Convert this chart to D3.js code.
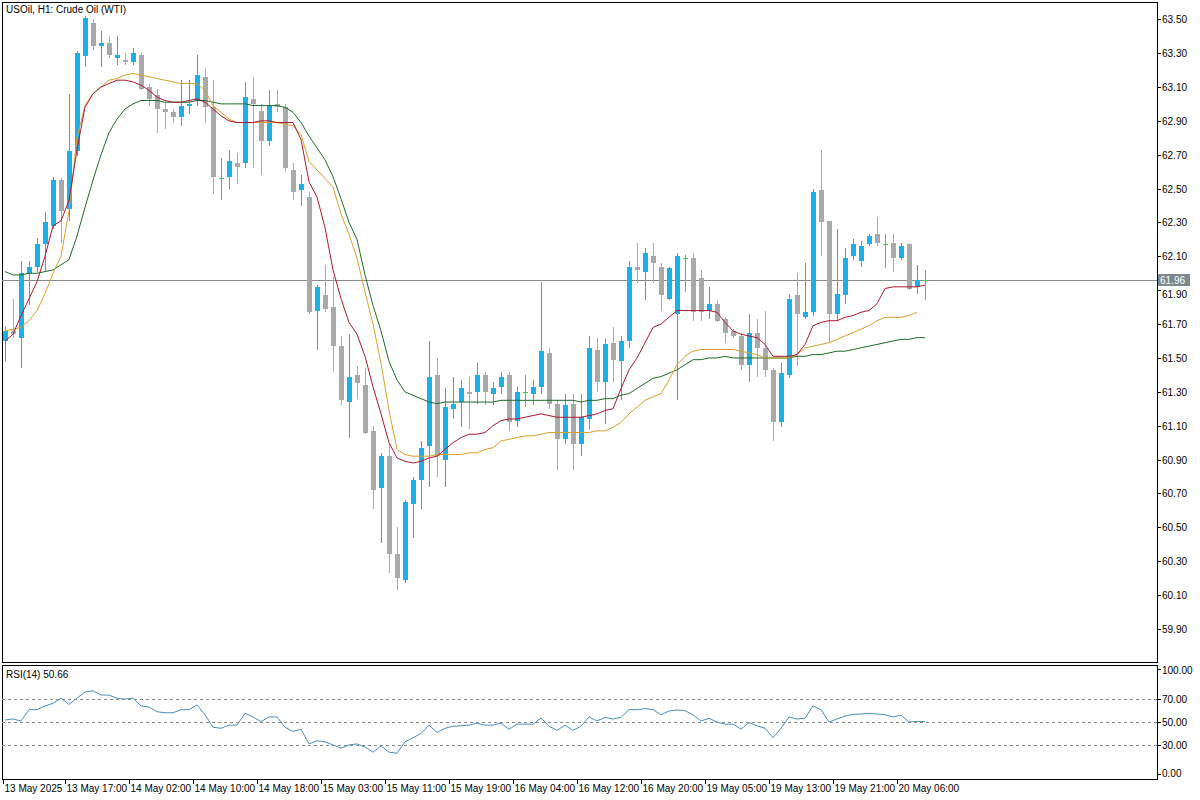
<!DOCTYPE html>
<html><head><meta charset="utf-8">
<script src="https://cdn.jsdelivr.net/npm/d3@7/dist/d3.min.js"></script>
<style>body{margin:0;background:#fff}svg{display:block}text{font-family:"Liberation Sans",Arial,sans-serif;font-size:10px;fill:#000}</style>
</head><body><svg id="c" width="1200" height="800"></svg>
<script>
const opens =[61.60,61.66,61.62,62.00,62.04,62.17,62.28,62.55,62.38,62.72,63.28,63.48,63.34,63.36,63.27,63.26,63.25,63.29,63.10,63.05,62.97,62.95,62.92,62.99,63.02,63.16,62.98,62.56,62.57,62.65,62.65,63.03,62.96,62.78,63.00,62.98,62.61,62.49,62.45,61.78,
61.87,61.80,61.57,61.24,61.40,61.34,61.07,60.73,60.92,60.34,60.19,60.64,60.78,60.98,61.40,60.90,61.20,61.24,61.30,61.30,61.40,61.29,61.33,61.40,61.13,61.30,61.29,61.33,61.53,61.23,61.02,61.23,60.99,
61.14,61.55,61.36,61.59,61.48,61.60,62.04,62.01,62.10,62.04,61.85,61.76,62.09,62.09,61.97,61.78,61.82,61.73,61.66,61.63,61.46,61.65,61.56,61.43,61.12,61.40,61.87,61.74,61.77,62.49,62.31,61.76,61.87,62.10,62.07,62.17,62.23,62.17,62.18,62.09,62.17,61.92,61.96];
const highs =[61.68,61.85,62.07,62.07,62.21,62.36,62.57,62.56,63.06,63.31,63.52,63.50,63.43,63.40,63.40,63.30,63.33,63.30,63.12,63.09,63.01,62.97,63.14,63.14,63.29,63.21,63.14,62.68,62.73,62.71,63.13,63.16,63.00,63.08,63.08,63.00,62.65,62.58,62.48,61.93,
62.05,61.98,61.63,61.64,61.45,61.44,61.10,60.94,60.99,60.50,60.66,60.80,61.01,61.60,61.50,61.32,61.39,61.37,61.39,61.47,61.42,61.36,61.42,61.42,61.33,61.40,61.37,61.95,61.56,61.25,61.29,61.29,61.29,
61.63,61.62,61.61,61.68,61.63,62.07,62.18,62.15,62.18,62.06,62.04,62.12,62.11,62.12,62.02,61.92,61.84,61.74,61.67,61.65,61.76,61.73,61.78,61.44,61.47,61.88,62.00,62.06,62.50,62.73,62.31,62.26,62.15,62.20,62.19,62.23,62.33,62.23,62.23,62.18,62.18,62.05,62.02];
const lows  =[61.48,61.62,61.44,61.81,62.01,62.01,62.26,62.18,62.31,62.69,63.22,63.32,63.22,63.27,63.23,63.23,63.23,63.08,62.99,62.83,62.85,62.89,62.87,62.94,62.99,62.89,62.47,62.43,62.50,62.53,62.62,62.62,62.58,62.75,62.95,62.60,62.43,62.40,61.76,61.55,
61.77,61.42,61.22,61.03,61.26,61.05,60.61,60.41,60.23,60.13,60.17,60.44,60.61,60.74,60.80,60.74,61.14,61.09,61.08,61.23,61.22,61.22,61.29,61.07,61.09,61.21,61.22,61.29,61.20,60.84,60.99,60.84,60.92,
61.08,61.30,61.11,61.36,61.25,61.56,61.94,61.84,61.94,61.78,61.84,61.25,61.89,61.72,61.72,61.73,61.71,61.59,61.62,61.43,61.36,61.39,61.39,61.01,61.09,61.38,61.45,61.73,61.75,62.10,61.59,61.72,61.82,62.08,62.04,62.16,62.16,62.03,62.01,62.08,61.90,61.88,61.84];
const closes=[61.66,61.64,62.00,62.04,62.17,62.30,62.55,62.37,62.72,63.30,63.51,63.34,63.36,63.29,63.29,63.25,63.30,63.09,63.03,62.97,62.95,62.92,62.99,63.00,63.17,62.98,62.57,62.56,62.66,62.63,63.04,63.00,62.78,62.99,62.98,62.62,62.48,62.53,61.77,61.92,
61.79,61.57,61.25,61.39,61.35,61.06,60.72,60.92,60.34,60.20,60.65,60.78,60.97,61.39,60.92,61.21,61.23,61.32,61.29,61.40,61.30,61.32,61.39,61.12,61.30,61.30,61.33,61.54,61.23,61.02,61.22,60.99,61.15,
61.56,61.36,61.58,61.49,61.60,62.04,62.02,62.12,62.06,61.87,62.03,62.10,62.09,61.77,61.77,61.82,61.72,61.65,61.63,61.46,61.65,61.56,61.43,61.12,61.41,61.85,61.76,61.77,62.48,62.30,61.76,61.88,62.09,62.17,62.16,62.22,62.18,62.17,62.09,62.16,61.91,61.96,61.96];
const maFast=[61.60,61.64,61.75,61.85,61.95,62.10,62.28,62.31,62.43,62.73,62.98,63.06,63.10,63.12,63.14,63.14,63.13,63.11,63.08,63.04,63.02,63.01,63.01,63.02,63.03,63.01,62.97,62.93,62.90,62.89,62.89,62.89,62.90,62.90,62.89,62.89,62.89,62.79,62.54,62.45,
62.27,62.02,61.85,61.71,61.64,61.51,61.33,61.17,61.00,60.91,60.89,60.88,60.89,60.91,60.92,60.96,61.00,61.03,61.05,61.05,61.06,61.10,61.13,61.14,61.14,61.15,61.16,61.17,61.16,61.15,61.15,61.15,61.15,
61.16,61.17,61.19,61.20,61.32,61.43,61.50,61.59,61.68,61.70,61.74,61.78,61.78,61.78,61.78,61.78,61.77,61.71,61.66,61.64,61.63,61.62,61.58,61.51,61.51,61.51,61.52,61.58,61.69,61.71,61.72,61.72,61.74,61.75,61.77,61.78,61.82,61.91,61.92,61.92,61.92,61.92,61.93];
const maMid=[61.66,61.67,61.68,61.72,61.78,61.88,62.00,62.10,62.37,62.80,62.99,63.06,63.10,63.14,63.15,63.17,63.18,63.17,63.16,63.15,63.14,63.13,63.12,63.12,63.12,63.08,62.99,62.95,62.91,62.89,62.89,62.89,62.89,62.89,62.89,62.88,62.87,62.82,62.66,62.61,
62.56,62.51,62.35,62.23,62.09,61.89,61.70,61.47,61.19,60.96,60.93,60.92,60.92,60.92,60.93,60.93,60.93,60.93,60.94,60.94,60.96,60.97,61.01,61.02,61.03,61.04,61.04,61.05,61.06,61.06,61.06,61.06,61.06,
61.06,61.07,61.07,61.09,61.12,61.17,61.21,61.25,61.27,61.29,61.37,61.46,61.51,61.54,61.55,61.55,61.55,61.55,61.55,61.54,61.53,61.52,61.50,61.50,61.50,61.50,61.52,61.56,61.57,61.58,61.59,61.61,61.63,61.65,61.67,61.69,61.72,61.74,61.74,61.74,61.75,61.77];
const maSlow=[62.01,61.99,61.99,62.00,62.00,62.01,62.02,62.05,62.08,62.22,62.39,62.55,62.70,62.83,62.91,62.97,63.00,63.02,63.02,63.02,63.01,63.01,63.01,63.01,63.02,63.02,63.01,63.00,63.00,63.00,63.00,62.99,62.99,62.99,62.99,62.98,62.95,62.89,62.81,62.74,
62.67,62.57,62.44,62.30,62.20,61.99,61.81,61.66,61.48,61.37,61.30,61.28,61.26,61.24,61.23,61.24,61.24,61.24,61.24,61.24,61.24,61.24,61.25,61.25,61.25,61.25,61.25,61.25,61.25,61.25,61.25,61.25,61.24,
61.25,61.25,61.26,61.26,61.28,61.29,61.32,61.35,61.38,61.39,61.41,61.43,61.46,61.49,61.49,61.50,61.50,61.51,61.50,61.50,61.50,61.50,61.50,61.50,61.50,61.50,61.51,61.51,61.52,61.52,61.53,61.54,61.54,61.55,61.56,61.57,61.58,61.59,61.60,61.61,61.61,61.62,61.62];
const rsi=[52.0,52.9,51.1,61.0,61.0,64.2,66.5,71.0,65.6,71.0,76.4,77.3,73.7,73.7,71.0,70.1,71.0,64.2,63.3,59.2,58.3,58.3,61.0,61.0,65.1,56.5,45.7,44.8,47.5,47.5,57.9,54.7,50.6,54.7,54.7,45.7,42.1,43.9,31.2,33.9,33.0,30.3,27.6,30.3,31.2,28.5,24.0,29.4,24.0,23.1,33.0,36.6,40.3,47.5,41.2,44.8,46.6,47.0,47.5,49.3,47.5,47.5,49.3,43.9,48.4,48.4,48.4,53.8,46.6,43.0,47.5,43.0,46.6,54.7,51.1,
54.3,52.9,54.3,61.0,61.0,61.9,61.0,56.5,59.8,60.7,60.1,56.5,51.1,53.5,50.2,48.4,48.4,44.1,49.7,47.0,44.8,36.6,44.8,54.7,52.9,53.5,64.4,61.0,50.2,52.9,55.4,56.9,57.2,57.8,57.2,56.5,54.7,56.1,50.2,50.8,50.66];
const timeLabels=["13 May 2025","13 May 17:00","14 May 02:00","14 May 10:00","14 May 18:00","15 May 03:00","15 May 11:00","15 May 19:00","16 May 04:00","16 May 12:00","16 May 20:00","19 May 05:00","19 May 13:00","19 May 21:00","20 May 06:00"];
const labelIdx=[-0.5,7.5,15.5,23.5,31.5,39.5,47.5,55.5,63.5,71.5,79.5,87.5,95.5,103.5,111.5];
const priceTicks=[63.5,63.3,63.1,62.9,62.7,62.5,62.3,62.1,61.9,61.7,61.5,61.3,61.1,60.9,60.7,60.5,60.3,60.1,59.9];
const rsiLevels=[70,50,30];
const rsiTickVals=[100,70,50,30,0];
const lastPrice=61.96;

const svg=d3.select("#c");
const L=2,R=1157,T=2,B=662,RT=665,RB=779;
const x=d3.scaleLinear().domain([0,115]).range([5,925]);
const y=d3.scaleLinear().domain([59.90,63.50]).range([629,19.2]);
const yr=d3.scaleLinear().domain([0,100]).range([779.8,664.8]);

svg.append("rect").attr("x",L+0.5).attr("y",T+0.5).attr("width",R-L).attr("height",B-T).attr("fill","none").attr("stroke","#000");
svg.append("rect").attr("x",L+0.5).attr("y",RT+0.5).attr("width",R-L).attr("height",RB-RT).attr("fill","none").attr("stroke","#000");

svg.append("line").attr("x1",L).attr("x2",R).attr("y1",Math.round(y(lastPrice))+0.5).attr("y2",Math.round(y(lastPrice))+0.5).attr("stroke","#8a8a8a");

const g=svg.append("g").attr("shape-rendering","crispEdges");
const idx=d3.range(opens.length);
const col=i=>closes[i]>opens[i]?"#1ab0ea":(closes[i]<opens[i]?"#a9a9a9":"#3ccc3c");
g.selectAll(".w").data(idx).join("line").attr("x1",i=>Math.round(x(i))+0.5).attr("x2",i=>Math.round(x(i))+0.5)
 .attr("y1",i=>y(highs[i])).attr("y2",i=>y(lows[i])).attr("stroke",col);
g.selectAll(".b").data(idx).join("rect").attr("x",i=>Math.round(x(i))-2).attr("width",5)
 .attr("y",i=>y(Math.max(opens[i],closes[i]))).attr("height",i=>Math.max(1,Math.abs(y(opens[i])-y(closes[i]))))
 .attr("fill",col);

const line=arr=>d3.line().x((d,i)=>x(i)).y(d=>y(d))(arr);
[[maSlow,"#1f6b2a"],[maMid,"#d9a12b"],[maFast,"#b0182f"]].forEach(([a,c])=>{
 svg.append("path").attr("d",line(a)).attr("fill","none").attr("stroke",c).attr("stroke-width",1);
});

priceTicks.forEach(v=>{
 const yy=Math.round(y(v))+0.5;
 svg.append("line").attr("x1",R).attr("x2",R+4).attr("y1",yy).attr("y2",yy).attr("stroke","#000");
 if(Math.abs(v-61.9)>0.001) svg.append("text").attr("x",R+5).attr("y",yy+3.5).text(v.toFixed(2));
});
svg.append("text").attr("x",R+5).attr("y",Math.round(y(61.9))+0.5+7).text("61.90");
const ly=Math.round(y(lastPrice));
svg.append("rect").attr("x",R+1).attr("y",ly-6).attr("width",32).attr("height",12).attr("fill","#7a8890");
svg.append("text").attr("x",R+3).attr("y",ly+4).style("fill","#fff").text(lastPrice.toFixed(2));

rsiLevels.forEach(v=>svg.append("line").attr("x1",L).attr("x2",R).attr("y1",Math.round(yr(v))+0.5).attr("y2",Math.round(yr(v))+0.5)
 .attr("stroke","#888").attr("stroke-dasharray","3,3"));
svg.append("path").attr("d",d3.line().x((d,i)=>x(i)).y(d=>yr(d))(rsi)).attr("fill","none").attr("stroke","#4a90b8").attr("stroke-width",1);
rsiTickVals.forEach(v=>{
 let yy=Math.round(yr(v))+0.5; let ty=yy+3.5;
 if(v===100) ty=yy+8; if(v===0) ty=yy-4;
 const tk=v===100?yy+4:(v===0?yy-6:yy);
 svg.append("line").attr("x1",R).attr("x2",R+4).attr("y1",tk).attr("y2",tk).attr("stroke","#000");
 svg.append("text").attr("x",R+5).attr("y",ty).text(v.toFixed(2));
});

timeLabels.forEach((t,k)=>{
 const xx=Math.max(3,Math.round(x(labelIdx[k])))+0.5;
 svg.append("line").attr("x1",xx).attr("x2",xx).attr("y1",RB).attr("y2",RB+5).attr("stroke","#000");
 svg.append("text").attr("x",xx+1).attr("y",792).text(t);
});

svg.append("text").attr("x",6).attr("y",13).text("USOil, H1:  Crude Oil (WTI)");
svg.append("text").attr("x",6).attr("y",678).text("RSI(14) "+rsi[rsi.length-1].toFixed(2));
</script></body></html>
